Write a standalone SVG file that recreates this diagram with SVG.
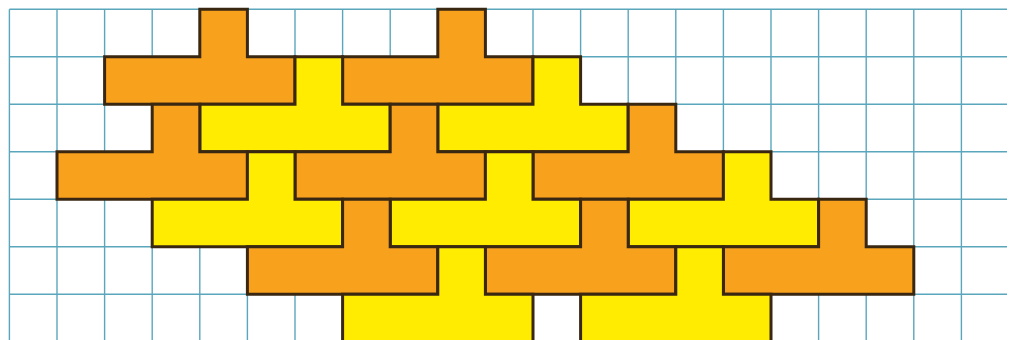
<svg xmlns="http://www.w3.org/2000/svg" width="1015" height="340" viewBox="0 0 1015 340">
<style>
.grid line{stroke:#5aa6bd;stroke-width:1.4}
.o{fill:#F7A11D}
.y{fill:#FFEC00}
.t{stroke:#3a2712;stroke-width:3;stroke-linejoin:miter}
</style>
<defs>
<path id="T" d="M0,47.5 H95.2 V0 H142.8 V47.5 H190.4 V95 H0 Z"/>
</defs>
<rect width="1015" height="340" fill="#ffffff"/>
<g class="grid">
<line x1="9.4" y1="9.3" x2="1007" y2="9.3"/>
<line x1="9.4" y1="56.8" x2="1007" y2="56.8"/>
<line x1="9.4" y1="104.3" x2="1007" y2="104.3"/>
<line x1="9.4" y1="151.8" x2="1007" y2="151.8"/>
<line x1="9.4" y1="199.3" x2="1007" y2="199.3"/>
<line x1="9.4" y1="246.8" x2="1007" y2="246.8"/>
<line x1="9.4" y1="294.3" x2="1007" y2="294.3"/>
<line x1="9.4" y1="9.3" x2="9.4" y2="340"/>
<line x1="57" y1="9.3" x2="57" y2="340"/>
<line x1="104.6" y1="9.3" x2="104.6" y2="340"/>
<line x1="152.2" y1="9.3" x2="152.2" y2="340"/>
<line x1="199.8" y1="9.3" x2="199.8" y2="340"/>
<line x1="247.4" y1="9.3" x2="247.4" y2="340"/>
<line x1="295" y1="9.3" x2="295" y2="340"/>
<line x1="342.6" y1="9.3" x2="342.6" y2="340"/>
<line x1="390.2" y1="9.3" x2="390.2" y2="340"/>
<line x1="437.8" y1="9.3" x2="437.8" y2="340"/>
<line x1="485.4" y1="9.3" x2="485.4" y2="340"/>
<line x1="533" y1="9.3" x2="533" y2="340"/>
<line x1="580.6" y1="9.3" x2="580.6" y2="340"/>
<line x1="628.2" y1="9.3" x2="628.2" y2="340"/>
<line x1="675.8" y1="9.3" x2="675.8" y2="340"/>
<line x1="723.4" y1="9.3" x2="723.4" y2="340"/>
<line x1="771" y1="9.3" x2="771" y2="340"/>
<line x1="818.6" y1="9.3" x2="818.6" y2="340"/>
<line x1="866.2" y1="9.3" x2="866.2" y2="340"/>
<line x1="913.8" y1="9.3" x2="913.8" y2="340"/>
<line x1="961.4" y1="9.3" x2="961.4" y2="340"/>
</g>
<g id="shapes">
<g id="o1"><use href="#T" class="o t" transform="translate(104.6,9.3)"/></g>
<g id="o2"><use href="#T" class="o t" transform="translate(342.6,9.3)"/></g>
<g id="y1"><use href="#T" class="y t" transform="translate(199.8,56.8)"/></g>
<g id="y2"><use href="#T" class="y t" transform="translate(437.8,56.8)"/></g>
<g id="o3"><use href="#T" class="o t" transform="translate(57,104.3)"/></g>
<g id="o4"><use href="#T" class="o t" transform="translate(295,104.3)"/></g>
<g id="o5"><use href="#T" class="o t" transform="translate(533,104.3)"/></g>
<g id="y3"><use href="#T" class="y t" transform="translate(152.2,151.8)"/></g>
<g id="y4"><use href="#T" class="y t" transform="translate(390.2,151.8)"/></g>
<g id="y5"><use href="#T" class="y t" transform="translate(628.2,151.8)"/></g>
<g id="o6"><use href="#T" class="o t" transform="translate(247.4,199.3)"/></g>
<g id="o7"><use href="#T" class="o t" transform="translate(485.4,199.3)"/></g>
<g id="o8"><use href="#T" class="o t" transform="translate(723.4,199.3)"/></g>
<g id="y6"><use href="#T" class="y t" transform="translate(342.6,246.8)"/></g>
<g id="y7"><use href="#T" class="y t" transform="translate(580.6,246.8)"/></g>
</g>
</svg>
